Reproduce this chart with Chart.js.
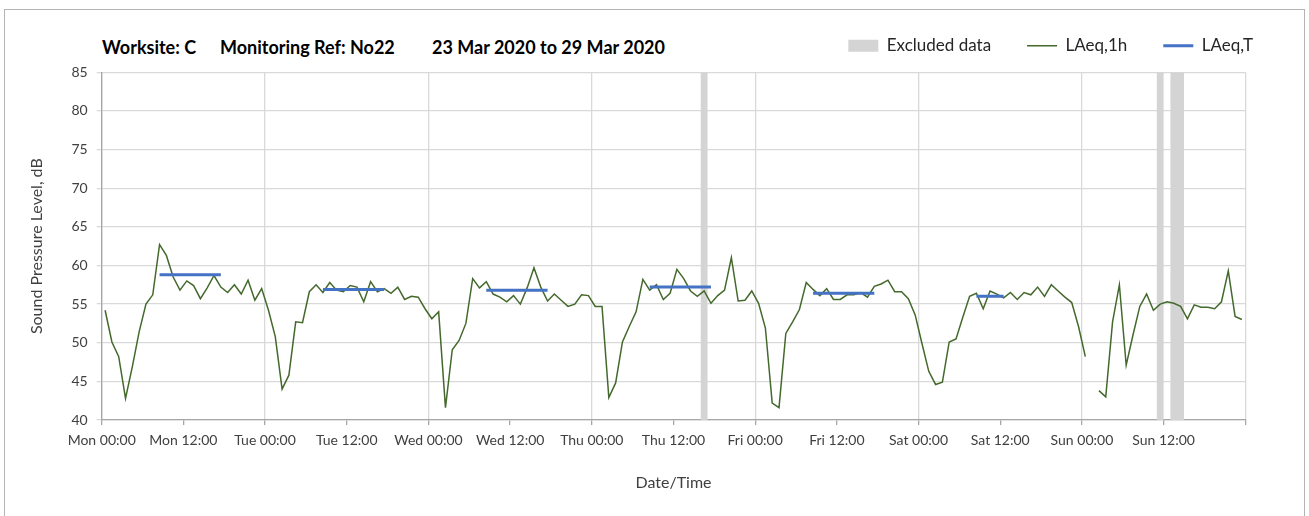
<!DOCTYPE html>
<html>
<head>
<meta charset="utf-8">
<script src="https://cdn.jsdelivr.net/npm/chart.js@4.4.1/dist/chart.umd.min.js"></script>
<style>
  body { margin: 0; background: #fff; }
  #wrap { position: relative; width: 1309px; height: 516px; overflow: hidden; }
  #frame { position: absolute; left: 4px; top: 9px; width: 1299px; height: 530px; border: 1px solid #b4b4b4; }
  .ttl { position: absolute; top: 36px; line-height: 18px; font: bold 18px Lato, sans-serif; color: #000; white-space: nowrap; }
  canvas { position: absolute; left: 0; top: 0; }
</style>
</head>
<body>
<div id="wrap">
  <div id="frame"></div>
  <span class="ttl" style="left:102px">Worksite: C</span>
  <span class="ttl" style="left:220px">Monitoring Ref: No22</span>
  <span class="ttl" style="left:432px">23 Mar 2020 to 29 Mar 2020</span>
  <canvas id="chart" width="1309" height="516"></canvas>
</div>
<script>
// tick labels every 12 h, last tick (next Mon 00:00) has no label
const tickLabels = ['Mon 00:00', 'Mon 12:00', 'Tue 00:00', 'Tue 12:00', 'Wed 00:00', 'Wed 12:00',
  'Thu 00:00', 'Thu 12:00', 'Fri 00:00', 'Fri 12:00', 'Sat 00:00', 'Sat 12:00',
  'Sun 00:00', 'Sun 12:00', ''];

// hourly LAeq,1h values, hour 0 = Mon 00:00
const laeq1h = [
  // Mon
  54.2, 50.1, 48.2, 42.8, 46.9, 51.4, 55.0, 56.2, 62.7, 61.3, 58.5, 56.8,
  58.0, 57.4, 55.7, 57.1, 58.7, 57.2, 56.5, 57.5, 56.3, 58.1, 55.5, 57.0,
  // Tue
  54.2, 50.8, 44.0, 45.8, 52.7, 52.6, 56.6, 57.5, 56.5, 57.8, 56.8, 56.6,
  57.4, 57.2, 55.3, 57.9, 56.6, 57.0, 56.4, 57.2, 55.6, 56.0, 55.9, 54.4,
  // Wed
  53.1, 54.0, 41.6, 49.1, 50.3, 52.5, 58.3, 57.1, 57.9, 56.3, 55.9, 55.3,
  56.1, 55.0, 57.1, 59.7, 57.2, 55.4, 56.3, 55.5, 54.7, 55.0, 56.2, 56.1,
  // Thu
  54.7, 54.7, 42.9, 44.8, 50.1, 52.1, 54.0, 58.2, 56.8, 57.5, 55.6, 56.4,
  59.5, 58.3, 56.7, 56.0, 56.7, 55.1, 56.1, 56.8, 61.0, 55.4, 55.5, 56.7,
  // Fri
  55.1, 51.9, 42.2, 41.6, 51.2, 52.7, 54.3, 57.8, 56.9, 56.1, 57.0, 55.6,
  55.6, 56.2, 56.2, 56.5, 55.9, 57.3, 57.6, 58.1, 56.6, 56.6, 55.7, 53.6,
  // Sat
  49.9, 46.3, 44.6, 44.9, 50.1, 50.5, 53.3, 56.0, 56.4, 54.4, 56.7, 56.3,
  55.8, 56.5, 55.6, 56.5, 56.2, 57.2, 56.0, 57.5, 56.7, 55.9, 55.2, 52.1,
  // Sun
  48.2, null, 43.8, 43.0, 52.7, 57.5, 47.1, 51.0, 54.7, 56.3, 54.2, 55.0,
  55.3, 55.1, 54.7, 53.1, 54.9, 54.6, 54.6, 54.4, 55.3, 59.3, 53.4, 53.0
];

// LAeq,T daytime periods (first and last hour) and levels
const periodStart = [8, 32, 56, 80, 104, 128];
const periodEnd = [17, 41, 65, 89, 113, 132];
const laeqT = [58.8, 56.9, 56.8, 57.2, 56.4, 56.0];

// excluded data ranges in hours
const excludedStart = [88, 155, 157];
const excludedEnd = [89, 156, 159];

const yMin = 40, yMax = 85;

const hourlyPoints = laeq1h.map((v, i) => ({ x: i + 0.5, y: v }));

const periodPoints = [];
periodStart.forEach((s, k) => {
  periodPoints.push({ x: s + 0.5, y: laeqT[k] });
  periodPoints.push({ x: periodEnd[k] + 0.5, y: laeqT[k] });
  periodPoints.push({ x: periodEnd[k] + 1, y: null });
});

const excludedPoints = [{ x: 0, y: yMin }];
excludedStart.forEach((s, k) => {
  excludedPoints.push({ x: s, y: yMax });
  excludedPoints.push({ x: excludedEnd[k], y: yMin });
});
excludedPoints.push({ x: 168, y: yMin });

const gridColor = '#d9d9d9';
const axisColor = '#a6a6a6';
const textColor = '#404040';
Chart.defaults.font.family = 'Lato';

const chart = new Chart(document.getElementById('chart'), {
  type: 'line',
  data: {
    datasets: [
      {
        label: 'LAeq,T',
        data: periodPoints,
        borderColor: '#4472c4',
        backgroundColor: '#4472c4',
        borderWidth: 3,
        borderCapStyle: 'butt',
        pointRadius: 0,
        pointStyle: 'line',
        pointBorderWidth: 3,
        spanGaps: false
      },
      {
        label: 'LAeq,1h',
        data: hourlyPoints,
        borderColor: '#44692c',
        backgroundColor: '#44692c',
        borderWidth: 1.5,
        pointRadius: 0,
        pointStyle: 'line',
        pointBorderWidth: 1.5,
        spanGaps: false
      },
      {
        label: 'Excluded data',
        data: excludedPoints,
        stepped: 'before',
        borderColor: 'transparent',
        borderWidth: 0,
        backgroundColor: '#d4d4d4',
        pointBackgroundColor: '#d4d4d4',
        pointBorderWidth: 0,
        pointRadius: 0,
        pointStyle: 'rect',
        fill: 'start'
      }
    ]
  },
  options: {
    responsive: false,
    animation: false,
    layout: { padding: { left: 0, right: 20, top: 1.5, bottom: 0 } },
    plugins: {
      tooltip: { enabled: false },
      legend: {
        position: 'top',
        align: 'end',
        labels: {
          usePointStyle: true,
          pointStyleWidth: 30,
          boxHeight: 12,
          padding: 36,
          color: '#262626',
          font: { size: 17 },
          sort: (a, b) => b.datasetIndex - a.datasetIndex
        }
      }
    },
    scales: {
      x: {
        type: 'linear',
        min: 0,
        max: 168,
        afterFit: s => { s.height = 96; },
        grid: {
          color: c => (c.tick && c.tick.value % 24 === 0) ? gridColor : 'transparent',
          lineWidth: 1.3,
          tickColor: axisColor,
          tickLength: 5
        },
        border: { color: axisColor, width: 1.3 },
        ticks: {
          stepSize: 12,
          maxTicksLimit: 20,
          autoSkip: false,
          maxRotation: 0,
          padding: 7,
          color: textColor,
          font: { size: 14 },
          callback: (v, i) => tickLabels[i]
        },
        title: {
          display: true,
          text: 'Date/Time',
          color: textColor,
          font: { size: 16 },
          padding: { top: 0, bottom: 23.4 }
        }
      },
      xTop: {
        type: 'linear',
        position: 'top',
        display: true,
        afterFit: s => { s.height = 8; },
        grid: { display: false },
        border: { display: false },
        ticks: { display: false }
      },
      y: {
        min: yMin,
        max: yMax,
        afterFit: s => { s.width = 101.7; },
        grid: { color: gridColor, lineWidth: 1.3, tickColor: gridColor, tickLength: 5 },
        border: { color: axisColor, width: 1.3 },
        ticks: { stepSize: 5, padding: 9, color: textColor, font: { size: 14 } },
        title: {
          display: true,
          text: 'Sound Pressure Level, dB',
          color: textColor,
          font: { size: 16 },
          padding: { top: 27, bottom: 0 }
        }
      },
      yRight: {
        type: 'linear',
        position: 'right',
        display: true,
        afterFit: s => { s.width = 43.7; },
        grid: { display: false },
        border: { display: false },
        ticks: { display: false }
      }
    }
  }
});

// put the plot top where the reference has it
const dy = 72.3 - chart.chartArea.top;
chart.options.layout.padding.top += dy;
chart.update();
</script>
</body>
</html>
